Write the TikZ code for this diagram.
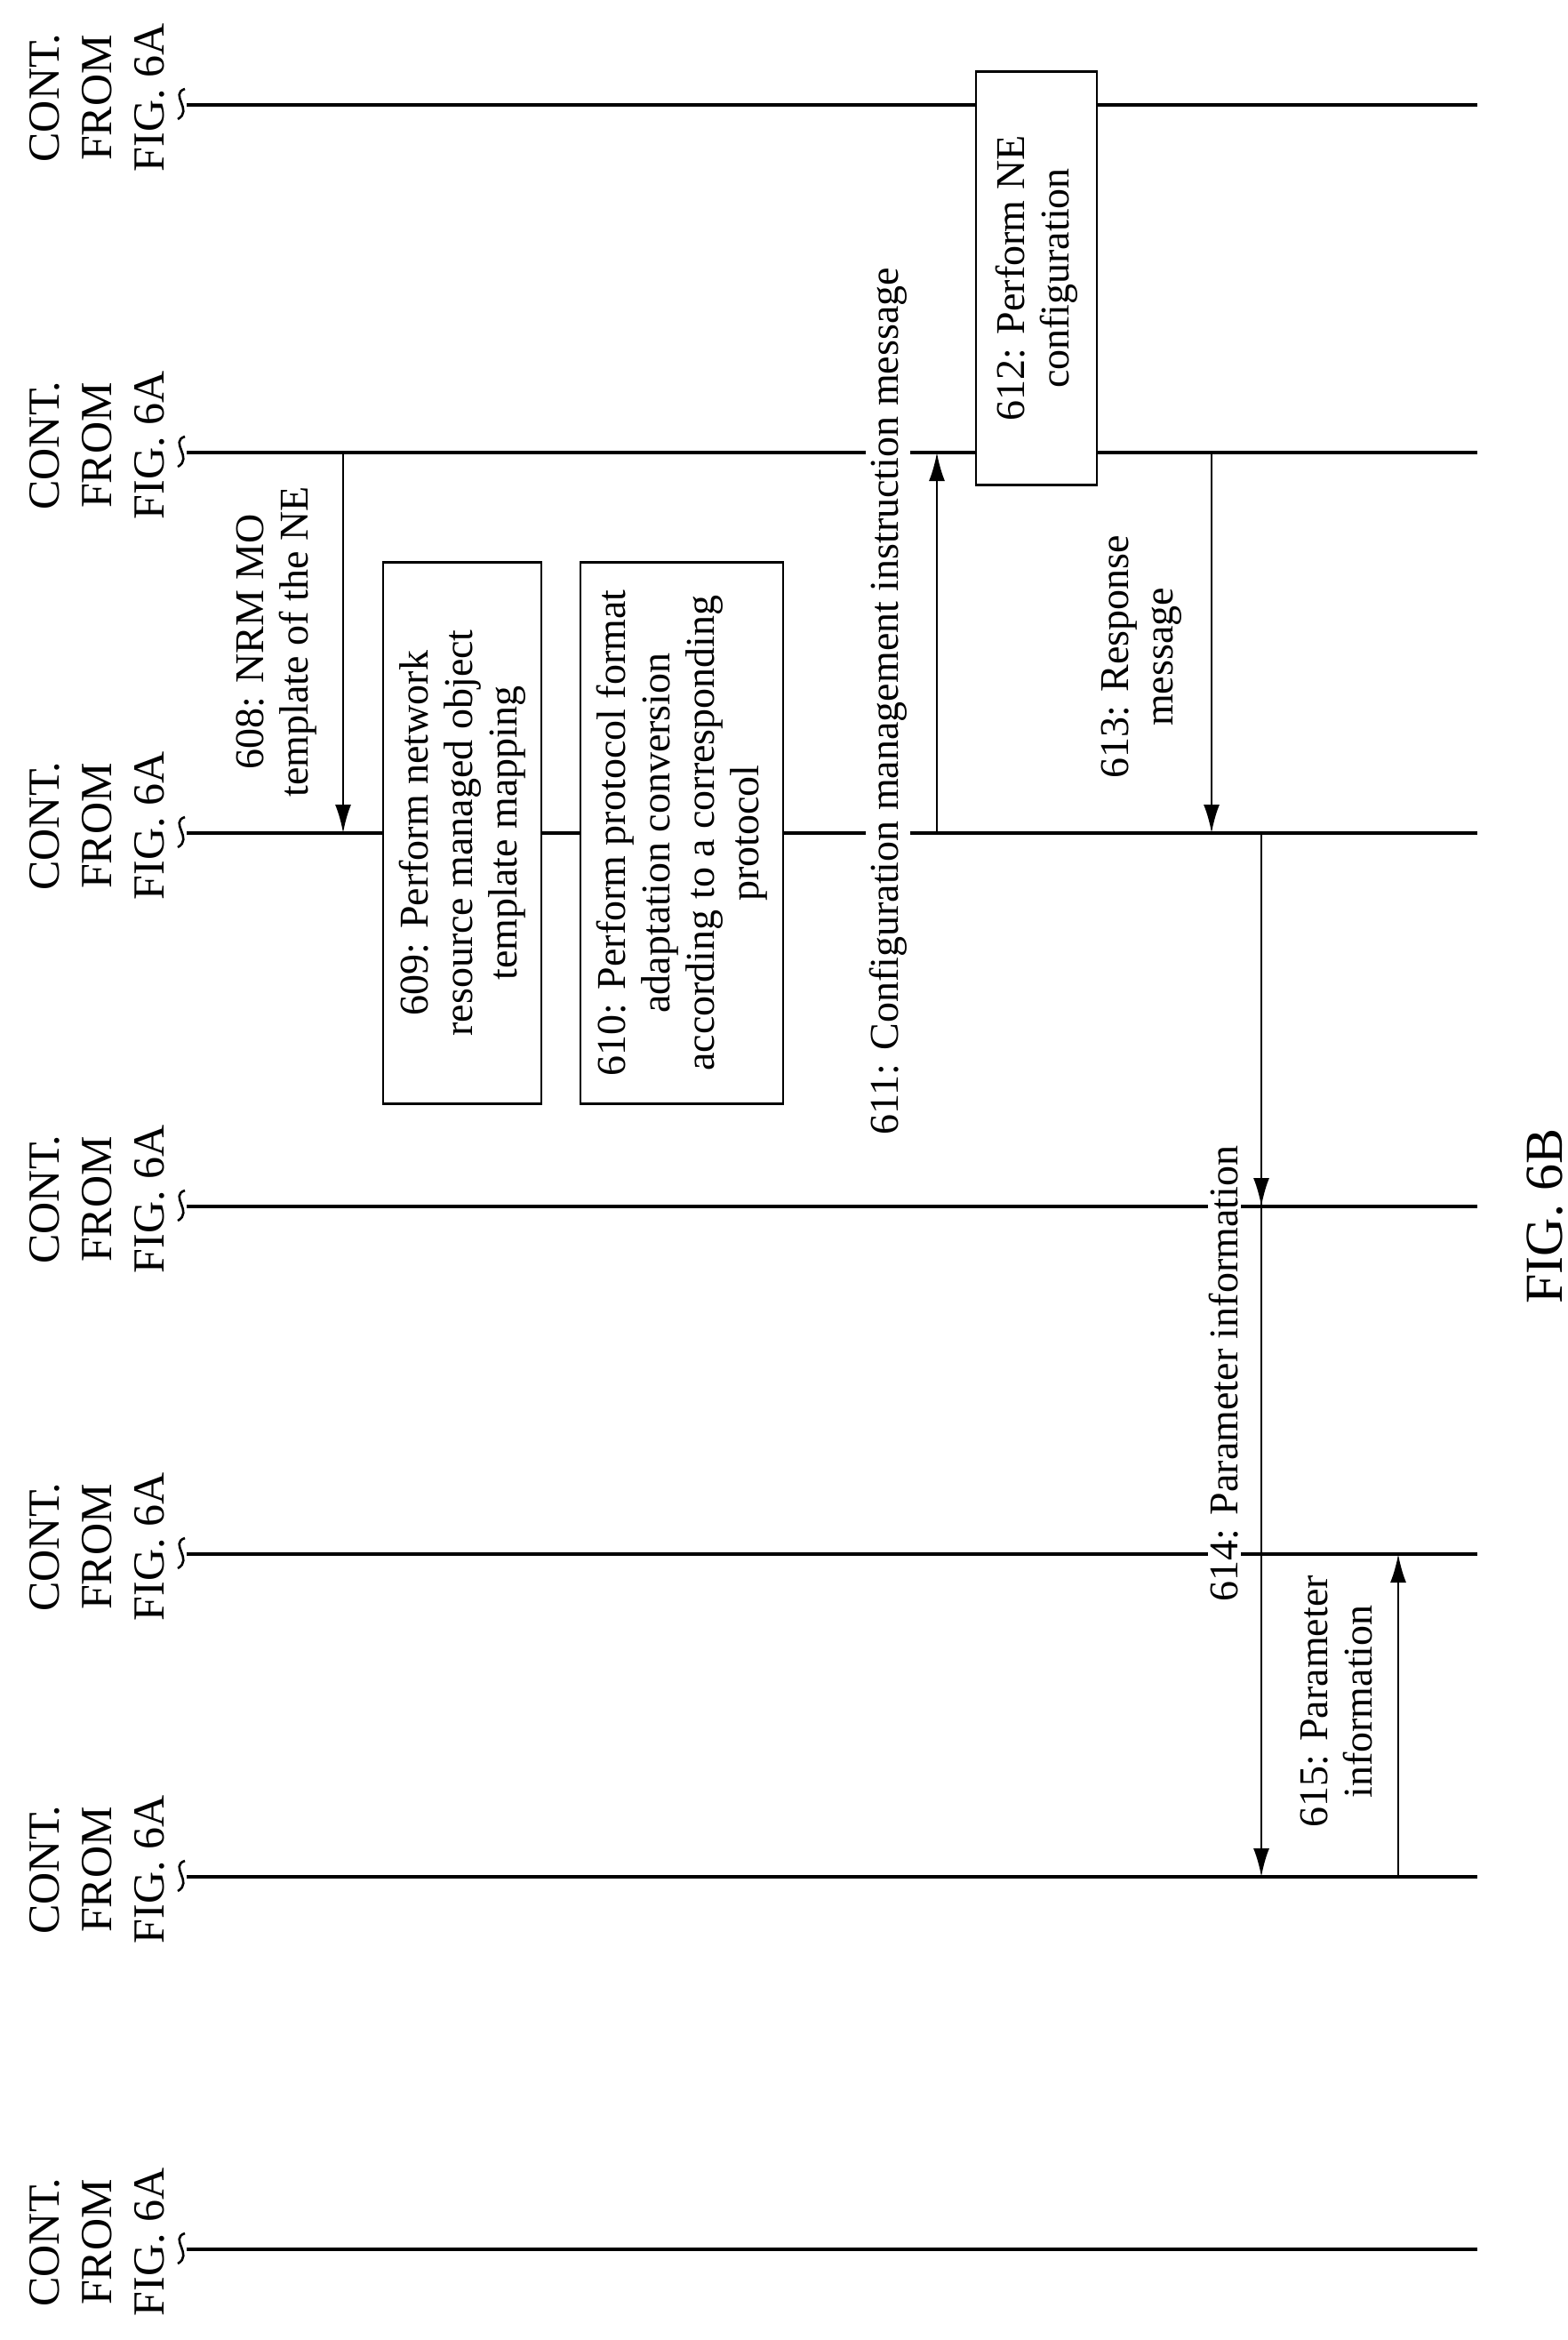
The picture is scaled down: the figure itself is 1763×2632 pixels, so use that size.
\documentclass[tikz,border=0pt]{standalone}
\usepackage{fontspec}
\setmainfont{Liberation Serif}
\usetikzlibrary{arrows.meta}
\begin{document}
\begin{tikzpicture}[x=0.5pt,y=-0.5pt,
 life/.style={line width=1.6pt},
 msg/.style={line width=1.3pt,-{Latex[length=16pt,width=9pt]}},
 box/.style={draw,line width=1.3pt,fill=white,rotate=90,align=center,font=\fontsize{23}{25}\selectfont,inner sep=0pt},
 lab/.style={rotate=90,align=center,font=\fontsize{23}{25}\selectfont,inner sep=2pt},
 cont/.style={rotate=90,align=center,font=\fontsize{25}{29.5}\selectfont,inner sep=0pt}]
\useasboundingbox (0,0) rectangle (1763,2632);
\foreach \y/\n in {118/a,509/b,937/c,1357/d,1748/e,2111/f,2530/g}{
  \coordinate (\n L) at (210,\y);
  \coordinate (\n R) at (1662,\y);
  \draw[life] (\n L) -- (\n R);
  \draw[line width=1.3pt] (208,\y-18) .. controls (190,\y-12) and (218,\y+6) .. (200,\y+16);
  \node[cont] (t\n) at (109,\y-8) {CONT.\\FROM\\FIG. 6A};
}
% boxes
\node[box,minimum width=232.5pt,minimum height=68pt] (b612) at (1166,313) {612: Perform NE\\configuration};
\node[box,minimum width=304.5pt,minimum height=89pt] (b609) at (520,937) {609: Perform network\\resource managed object\\template mapping};
\node[box,minimum width=304.5pt,minimum height=114pt] (b610) at (767,937) {610: Perform protocol format\\adaptation conversion\\according to a corresponding\\protocol};
% messages
\coordinate (m608s) at (386,509); \coordinate (m608e) at (386,937);
\draw[msg] (m608s) -- (m608e);
\node[lab] (l608) at (311,722) {608: NRM MO\\template of the NE};
\node[lab,fill=white] (l611) at (999,789) {611: Configuration management instruction message};
\coordinate (m611s) at (1054,937); \coordinate (m611e) at (1054,509);
\draw[msg] (m611s) -- (m611e);
\coordinate (m613s) at (1363,509); \coordinate (m613e) at (1363,937);
\draw[msg] (m613s) -- (m613e);
\node[lab] (l613) at (1284,739) {613: Response\\message};
\coordinate (m614s) at (1419,937); \coordinate (m614a) at (1419,1357); \coordinate (m614e) at (1419,2111);
\draw[msg] (m614s) -- (m614a);
\draw[msg] (m614s) -- (m614e);
\node[lab,fill=white,inner sep=1pt] (l614) at (1377,1545) {614: Parameter information};
\coordinate (m615s) at (1573,2111); \coordinate (m615e) at (1573,1748);
\draw[msg] (m615s) -- (m615e);
\node[lab] (l615) at (1503,1914) {615: Parameter\\information};
\node[rotate=90,font=\fontsize{30}{34}\selectfont] (fig) at (1738,1368) {FIG. 6B};
\end{tikzpicture}
\end{document}
